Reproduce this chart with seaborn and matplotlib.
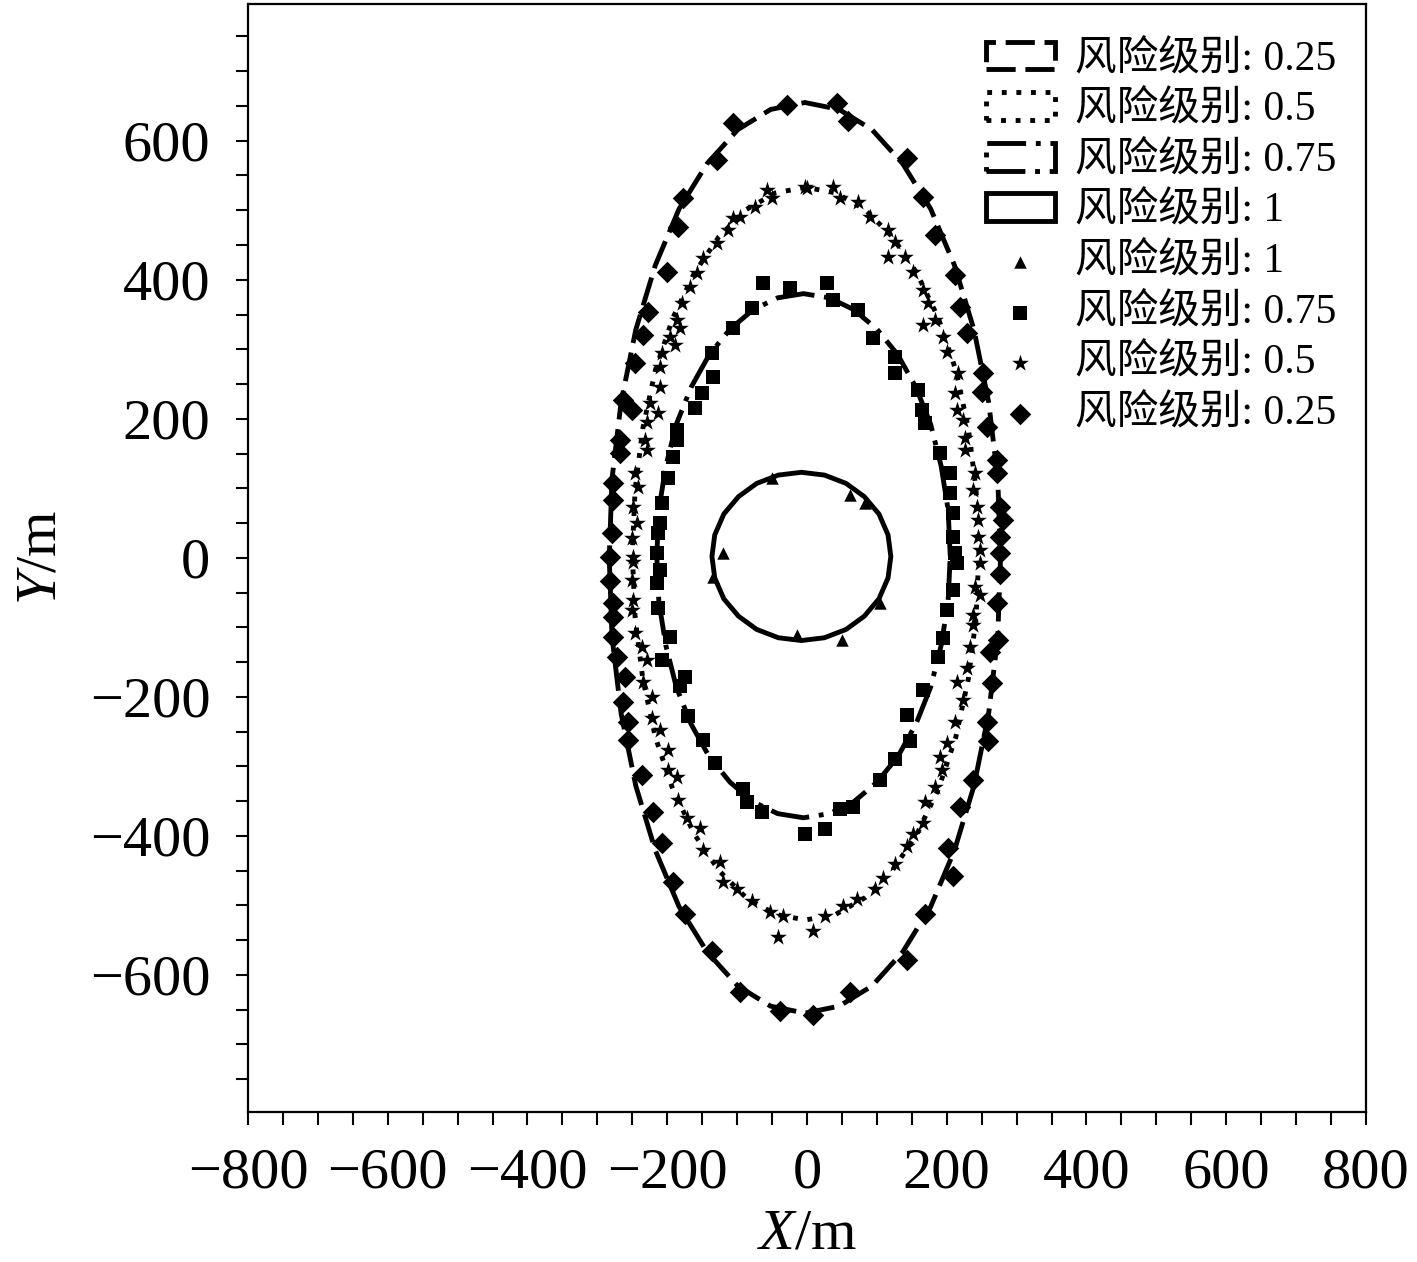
import numpy as np
import matplotlib
matplotlib.use("Agg")
import matplotlib.pyplot as plt
from matplotlib.ticker import MultipleLocator
import seaborn as sns

# contour lines (fitted risk boundaries), in metres
c025_x = [277, 273, 260, 239, 211, 177, 137, 93, 46, -3, -52, -99, -143, -183, -217, -245, -266, -279,
          -283, -279, -266, -245, -217, -183, -143, -99, -52, -3, 46, 93, 137, 177, 211, 239, 260, 273]
c025_y = [0, 114, 224, 328, 421, 502, 567, 616, 645, 655, 645, 616, 567, 502, 421, 328, 224, 114,
          0, -114, -224, -328, -421, -502, -567, -616, -645, -655, -645, -616, -567, -502, -421, -328, -224, -114]

c05_x = [246, 242, 231, 213, 188, 157, 122, 83, 41, -2, -45, -87, -126, -161, -192, -217, -235, -246,
         -250, -246, -235, -217, -192, -161, -126, -87, -45, -2, 41, 83, 122, 157, 188, 213, 231, 242]
c05_y = [6, 98, 186, 270, 345, 410, 462, 501, 525, 533, 525, 501, 462, 410, 345, 270, 186, 98,
         6, -86, -174, -258, -333, -398, -450, -489, -513, -521, -513, -489, -450, -398, -333, -258, -174, -86]

c075_x = [205, 202, 192, 177, 156, 130, 100, 67, 32, -5, -42, -77, -110, -140, -166, -187, -202, -212,
          -215, -212, -202, -187, -166, -140, -110, -77, -42, -5, 32, 67, 100, 130, 156, 177, 192, 202]
c075_y = [3, 69, 132, 192, 245, 292, 329, 357, 374, 380, 374, 357, 329, 292, 245, 192, 132, 69,
          3, -63, -126, -186, -239, -286, -323, -351, -368, -374, -368, -351, -323, -286, -239, -186, -126, -63]

c1_x = [120, 116, 103, 82, 56, 25, -8, -41, -72, -98, -119, -132,
        -136, -132, -119, -98, -72, -41, -8, 25, 56, 82, 103, 116]
c1_y = [2, 33, 63, 88, 107, 119, 123, 119, 107, 88, 63, 33,
        2, -29, -59, -84, -103, -115, -119, -115, -103, -84, -59, -29]

# simulated points per risk level
p1_x = [-50, 62, 83, -120, -134, 104, -14, 50]
p1_y = [115, 91, 79, 7, -27, -65, -111, -118]

p075_x = [-63, -24, -79, -106, -136, -134, -150, -160, -186, -186, -192, -199, -207, -210, -213, -215,
          29, 37, 73, 94, 126, 126, 159, 164, 169, 190, 204, 204, 209, 209, 212,
          -210, -215, -213, -196, -207, -174, -182, -170, -149, -132, -92, -86, -64, -3,
          214, 209, 200, 195, 187, 166, 143, 147, 126, 104, 66, 47, 26]
p075_y = [395, 388, 359, 330, 295, 260, 237, 216, 184, 170, 145, 115, 79, 50, 36, 7,
          395, 371, 356, 316, 289, 266, 241, 213, 194, 151, 122, 93, 65, 30, 7,
          -17, -36, -72, -114, -147, -171, -185, -228, -262, -295, -333, -351, -366, -398,
          -7, -46, -75, -115, -142, -190, -226, -264, -290, -319, -358, -362, -390]

p05_x = [-3, -57, -50, -74, -106, -96, -113, -129, -149, -157, -167, -179, -186, -182, -196, -189, -207,
         -210, -210, -225, -213, -229, -232, -229, -246, -242, -249, -243, -250, -249,
         0, 37, 47, 73, 90, 116, 126, 116, 140, 152, 166, 173, 166, 183, 195, 200, 216, 212, 214,
         223, 226, 226, 240, 237, 243, 245, 245, 247,
         -249, -250, -249, -250, -246, -236, -229, -235, -222, -222, -210, -199, -199, -186, -184,
         -172, -153, -149, -124, -120, -100, -79, -53, -34, -41,
         247, 240, 247, 237, 237, 233, 229, 214, 223, 212, 200, 190, 193, 183, 169, 166, 152, 143,
         126, 109, 97, 72, 51, 26, 9]
p05_y = [533, 529, 517, 504, 489, 490, 471, 453, 431, 410, 389, 366, 342, 330, 318, 306, 295,
         274, 246, 223, 208, 195, 170, 155, 122, 102, 73, 50, 29, 1,
         532, 533, 517, 512, 490, 471, 454, 433, 433, 411, 385, 366, 335, 342, 318, 296, 266, 237, 213,
         198, 172, 155, 122, 98, 73, 55, 30, 11,
         -6, -32, -60, -75, -108, -128, -147, -178, -200, -230, -247, -276, -305, -315, -348,
         -374, -388, -420, -438, -466, -477, -494, -510, -516, -546,
         -7, -42, -53, -82, -96, -129, -158, -178, -204, -236, -266, -287, -305, -329, -352, -381, -398, -415,
         -441, -460, -477, -491, -501, -516, -537]

p025_x = [-29, 43, 59, -106, -129, -177, -185, -200, -227, -235, -246, -263, -250, -267, -267, -277, -277,
          -279, -282, -282, -277, -277, -277, -272, -260, -263, -256, -256, -236, -220, -207, -192, -174,
          -136, -96, -39, 9, 61, 143, 169, 209, 202, 219, 237, 259, 257, 265, 262, 273, 272, 276, 276,
          276, 280, 276, 272, 272, 257, 250, 252, 229, 219, 212, 183, 166, 143]
p025_y = [651, 654, 629, 625, 572, 517, 476, 411, 354, 320, 280, 227, 213, 170, 151, 108, 83,
          36, 1, -34, -65, -85, -114, -142, -172, -208, -236, -262, -312, -366, -410, -467, -513,
          -566, -624, -652, -657, -625, -578, -513, -458, -417, -358, -319, -264, -236, -180, -135, -118, -65, -24, 7,
          30, 55, 73, 122, 141, 188, 239, 266, 323, 361, 407, 464, 519, 575]

levels = ["0.25", "0.5", "0.75", "1"]
label_fmt = "风险级别: {}"

sns.set_style("ticks")
plt.rcParams["font.family"] = ["Liberation Serif", "Noto Sans CJK SC"]
plt.rcParams["mathtext.fontset"] = "custom"
plt.rcParams["mathtext.rm"] = "Liberation Serif"
plt.rcParams["mathtext.it"] = "Liberation Serif:italic"
plt.rcParams["text.color"] = "black"
plt.rcParams["axes.labelcolor"] = "black"
plt.rcParams["xtick.color"] = "black"
plt.rcParams["ytick.color"] = "black"

fig = plt.figure(figsize=(14.17, 12.62), dpi=100)
ax = fig.add_axes([0.175, 0.119, 0.789, 0.878])

# contour lines drawn as unfilled polygons -> rectangle legend handles like the original
line_styles = {
    "0.25": (0, (6, 2.0)),
    "0.5": (0, (1, 2.0)),
    "0.75": (0, (8, 2, 1, 2)),
    "1": "-",
}
contours = {"0.25": (c025_x, c025_y), "0.5": (c05_x, c05_y),
            "0.75": (c075_x, c075_y), "1": (c1_x, c1_y)}
patch_handles = []
for lv in levels:
    cx, cy = contours[lv]
    h = ax.fill(cx, cy, fill=False, edgecolor="black", linewidth=3.5,
                linestyle=line_styles[lv], label=label_fmt.format(lv))[0]
    patch_handles.append(h)

sns.scatterplot(x=p1_x, y=p1_y, marker="^", s=80, color="black", linewidth=0,
                ax=ax, label=label_fmt.format("1"))
sns.scatterplot(x=p075_x, y=p075_y, marker="s", s=110, color="black", linewidth=0,
                ax=ax, label=label_fmt.format("0.75"))
sns.scatterplot(x=p05_x, y=p05_y, marker="*", s=160, color="black", linewidth=0,
                ax=ax, label=label_fmt.format("0.5"))
sns.scatterplot(x=p025_x, y=p025_y, marker="D", s=120, color="black", linewidth=0,
                ax=ax, label=label_fmt.format("0.25"))

handles, labels = ax.get_legend_handles_labels()
pts = [h for h in handles if h not in patch_handles]
pts_lab = [l for h, l in zip(handles, labels) if h not in patch_handles]
ax.legend(patch_handles + pts, [label_fmt.format(l) for l in levels] + pts_lab,
          loc="upper right", bbox_to_anchor=(1.0, 0.993), frameon=False, fontsize=30,
          handlelength=1.65, handleheight=0.65, handletextpad=0.5, labelspacing=0.29,
          borderpad=0.2)

ax.set_xlim(-800, 800)
ax.set_ylim(-797, 797)
ax.xaxis.set_major_locator(MultipleLocator(200))
ax.xaxis.set_minor_locator(MultipleLocator(50))
ax.yaxis.set_major_locator(MultipleLocator(200))
ax.yaxis.set_minor_locator(MultipleLocator(50))
ax.set_yticks([-600, -400, -200, 0, 200, 400, 600])

for sp in ax.spines.values():
    sp.set_linewidth(1.6)
    sp.set_color("black")
ax.tick_params(which="both", direction="out", length=9, width=1.5, color="black",
               top=False, right=False)
ax.tick_params(axis="x", which="major", labelsize=42, pad=17)
ax.tick_params(axis="y", which="major", labelsize=42, pad=18)

ax.set_xlabel("$X$/m", fontsize=42, labelpad=6)
ax.set_ylabel("$Y$/m", fontsize=42, labelpad=16)

fig.savefig("out.png", dpi=100)
